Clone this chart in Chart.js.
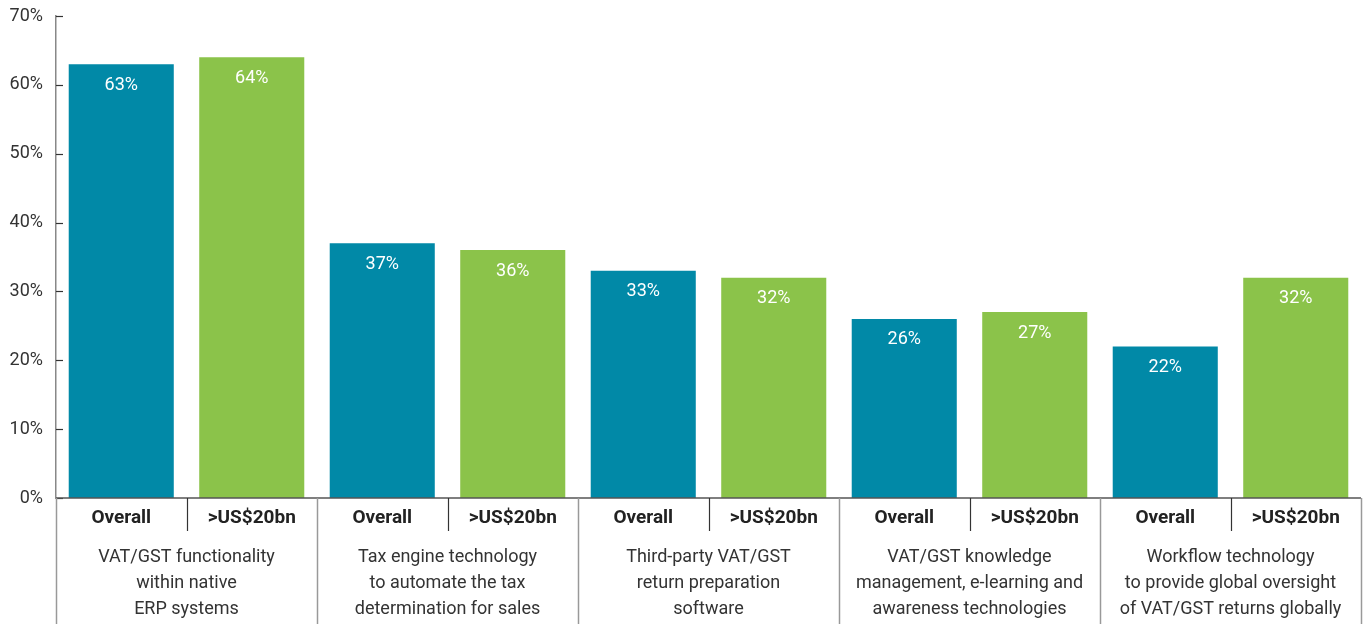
<!DOCTYPE html>
<html>
<head>
<meta charset="utf-8">
<script src="https://cdn.jsdelivr.net/npm/chart.js@4.4.1/dist/chart.umd.min.js"></script>
<style>
  html, body { margin: 0; padding: 0; background: #fff; }
  #wrap { width: 1365px; height: 624px; }
</style>
</head>
<body>
<div id="wrap"><canvas id="chartTech" width="1365" height="624"></canvas></div>
<script>
var groups = [
	["VAT/GST functionality", "within native", "ERP systems"],
	["Tax engine technology", "to automate the tax", "determination for sales"],
	["Third-party VAT/GST", "return preparation", "software"],
	["VAT/GST knowledge", "management, e-learning and", "awareness technologies"],
	["Workflow technology", "to provide global oversight", "of VAT/GST returns globally"]
];
var seriesNames = ["Overall", ">US$20bn"];
var overall = [63, 37, 33, 26, 22];
var large = [64, 36, 32, 27, 32];
var yTicks = [0, 10, 20, 30, 40, 50, 60, 70];

var FONT = "'Liberation Sans Narrow', 'Roboto', 'Liberation Sans', sans-serif";
var TEAL = "#0189a7";
var GREEN = "#8bc34a";

// interleave the two series, one bar per category
var labels = [], values = [], colors = [];
for (var i = 0; i < groups.length; i++) {
	labels.push(seriesNames[0]); values.push(overall[i]); colors.push(TEAL);
	labels.push(seriesNames[1]); values.push(large[i]); colors.push(GREEN);
}

var decorPlugin = {
	id: "decor",
	afterDraw: function(chart) {
		var ctx = chart.ctx, area = chart.chartArea;
		var xs = chart.scales.x, ys = chart.scales.y;
		var bottom = chart.height;
		ctx.save();

		// inward y ticks
		ctx.strokeStyle = "#333";
		ctx.lineWidth = 1.2;
		yTicks.forEach(function(t) {
			var y = Math.round(ys.getPixelForValue(t)) + 0.5;
			ctx.beginPath(); ctx.moveTo(area.left, y); ctx.lineTo(area.left + 7, y); ctx.stroke();
		});

		// value labels inside bars
		var meta = chart.getDatasetMeta(0);
		ctx.fillStyle = "#fff";
		ctx.font = "18px " + FONT;
		ctx.textAlign = "center";
		ctx.textBaseline = "middle";
		meta.data.forEach(function(bar, idx) {
			ctx.fillText(values[idx] + "%", bar.x, bar.y + 21);
		});

		// baseline
		ctx.strokeStyle = "#555";
		ctx.lineWidth = 1.5;
		ctx.beginPath(); ctx.moveTo(area.left, area.bottom); ctx.lineTo(area.right, area.bottom); ctx.stroke();

		var step = xs.getPixelForValue(1) - xs.getPixelForValue(0);

		// separators between series inside a group
		ctx.strokeStyle = "#333";
		ctx.lineWidth = 1.2;
		for (var g = 0; g < groups.length; g++) {
			var sx = Math.round(xs.getPixelForValue(g * 2) + step / 2) + 0.5;
			ctx.beginPath(); ctx.moveTo(sx, area.bottom); ctx.lineTo(sx, area.bottom + 33); ctx.stroke();
		}

		// group separators
		ctx.strokeStyle = "#999";
		ctx.lineWidth = 1.5;
		for (var k = 0; k <= groups.length; k++) {
			var gx = k === groups.length ? area.right : xs.getPixelForValue(k * 2) - step / 2;
			gx = Math.round(gx) + 0.5;
			ctx.beginPath(); ctx.moveTo(gx, area.bottom); ctx.lineTo(gx, bottom); ctx.stroke();
		}

		// series labels
		ctx.fillStyle = "#222";
		ctx.font = "bold 19px " + FONT;
		labels.forEach(function(l, idx) {
			ctx.fillText(l, xs.getPixelForValue(idx), area.bottom + 20);
		});

		// group labels
		ctx.fillStyle = "#333";
		ctx.font = "18px " + FONT;
		groups.forEach(function(lines, g) {
			var cx = (xs.getPixelForValue(g * 2) + xs.getPixelForValue(g * 2 + 1)) / 2;
			lines.forEach(function(line, j) {
				ctx.fillText(line, cx, area.bottom + 59 + j * 26);
			});
		});
		ctx.restore();
	}
};

function Init() {
	var ctx = document.getElementById("chartTech").getContext("2d");
	new Chart(ctx, {
		type: "bar",
		data: {
			labels: labels,
			datasets: [{
				data: values,
				backgroundColor: colors,
				borderWidth: 0,
				categoryPercentage: 1,
				barPercentage: 0.805
			}]
		},
		plugins: [decorPlugin],
		options: {
			responsive: false,
			animation: false,
			layout: { padding: { top: 16, right: 4, left: 0, bottom: 0 } },
			plugins: { legend: { display: false }, tooltip: { enabled: false } },
			scales: {
				x: {
					grid: { display: false },
					border: { display: false },
					ticks: { display: false },
					afterFit: function(scale) { scale.height = 126; }
				},
				y: {
					min: 0, max: 70,
					afterFit: function(scale) {
						scale.width = 56;
						scale.paddingTop = 0;
						scale.paddingBottom = 0;
					},
					grid: { display: false, drawTicks: false },
					border: { display: true, color: "#888", width: 1.5 },
					ticks: {
						stepSize: 10,
						padding: 13,
						color: "#333",
						font: { family: FONT, size: 18 },
						callback: function(v) { return v + "%"; }
					}
				}
			}
		}
	});
}

Init();
</script>
</body>
</html>
